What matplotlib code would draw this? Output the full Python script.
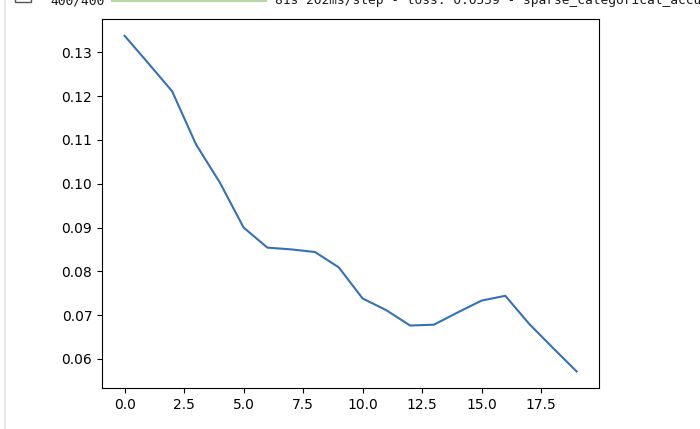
import matplotlib
matplotlib.use('Agg')
import matplotlib.pyplot as plt
from matplotlib.lines import Line2D
from matplotlib.patches import Rectangle

# loss per epoch
epochs = list(range(20))
loss = [0.1338, 0.1275, 0.1211, 0.1090, 0.1003, 0.0900, 0.0854, 0.0850,
        0.0844, 0.0809, 0.0738, 0.0711, 0.0676, 0.0678, 0.0706, 0.0733,
        0.0744, 0.0680, 0.0625, 0.0571]

progress_step = '400/400'
progress_text = '81s 202ms/step - loss: 0.0559 - sparse_categorical_accuracy'

W, H = 700, 429
fig = plt.figure(figsize=(W / 100, H / 100), dpi=100)
ax = fig.add_axes([102 / W, 1 - 388.3 / H, (599.3 - 102) / W, (388.3 - 19) / H])
ax.plot(epochs, loss, color='#3571b5')

# notebook frame bits around the figure (cell border, icon, keras progress bar)
fig.add_artist(Line2D([4.5 / W, 4.5 / W], [0, 1], color='#e3e3e3', lw=1.2,
                      transform=fig.transFigure))
fig.add_artist(Rectangle((15 / W, 1 - 1.7 / H), 16 / W, 12 / H, fill=False,
                         edgecolor='#555555', lw=1, transform=fig.transFigure))
fig.add_artist(Line2D([112 / W, 266 / W], [1 - 0.6 / H, 1 - 0.6 / H],
                      color='#b8d9a3', lw=1.5, transform=fig.transFigure))
fig.text(50 / W, 1 - 4 / H, progress_step, family='DejaVu Sans Mono',
         fontsize=9.3, va='baseline', color='#1a1a1a')
fig.text(275 / W, 1 - 4 / H, progress_text, family='DejaVu Sans Mono',
         fontsize=9.3, va='baseline', color='#1a1a1a')

fig.savefig('out.png', dpi=100)
